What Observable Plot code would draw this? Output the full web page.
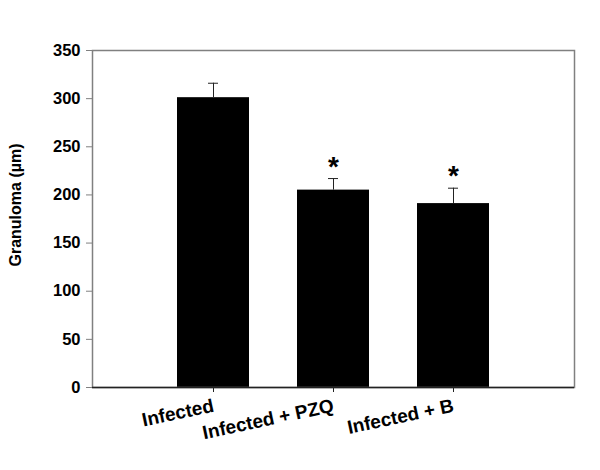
<!DOCTYPE html>
<html>
<head>
<meta charset="utf-8">
<script src="https://cdn.jsdelivr.net/npm/d3@7"></script>
<script src="https://cdn.jsdelivr.net/npm/@observablehq/plot@0.6"></script>
<style>
  html, body { margin: 0; padding: 0; background: #fff; }
</style>
</head>
<body>
<div id="chart"></div>
<script>
const groups = ["Infected", "Infected + PZQ", "Infected + B"];
const means = [301, 205, 191];
const sems = [15, 12, 16];
const marks = ["", "*", "*"];
const yTicks = [0, 50, 100, 150, 200, 250, 300, 350];
const yLabel = "Granuloma (µm)";

const data = groups.map((g, i) => ({group: g, mean: means[i], top: means[i] + sems[i], mark: marks[i]}));
const font = "Liberation Sans, Arial, Helvetica, sans-serif";

const chart = Plot.plot({
  width: 600,
  height: 470,
  marginLeft: 92,
  marginRight: 26,
  marginTop: 50,
  marginBottom: 83,
  style: {fontFamily: font, background: "white", color: "black"},
  x: {domain: groups, paddingInner: 0.4, paddingOuter: 0.7, axis: null},
  y: {domain: [0, 350], axis: null},
  marks: [
    Plot.barY(data, {x: "group", y: "mean", fill: "black"}),
    Plot.ruleX(data, {x: "group", y1: "mean", y2: "top", stroke: "#222", strokeWidth: 1}),
    Plot.tickY(data, {x: "group", y: "top", stroke: "#222", strokeWidth: 1, insetLeft: 31, insetRight: 31}),
    Plot.text(data, {x: "group", y: "top", text: "mark", lineAnchor: "bottom", dy: -3, fontSize: 28, fontWeight: "bold", fill: "black"}),
    Plot.frame({stroke: "#808080", strokeWidth: 1.5}),
    Plot.ruleY([0], {stroke: "#222", strokeWidth: 1.5}),
    Plot.axisY({ticks: yTicks, tickSize: 6, tickPadding: 6, stroke: "#808080", fill: "black", fontSize: 16.5, fontWeight: "bold", label: null}),
    Plot.axisX({tickSize: 5, tickRotate: -12, tickPadding: 13, stroke: "#222", fill: "black", fontSize: 19, fontWeight: "bold", label: null}),
    Plot.text([yLabel], {frameAnchor: "left", text: d => d, rotate: -90, dx: -77, dy: -14, fontSize: 16, fontWeight: "bold", fill: "black", textAnchor: "middle", lineAnchor: "middle"})
  ]
});
document.getElementById("chart").appendChild(chart);
</script>
</body>
</html>
